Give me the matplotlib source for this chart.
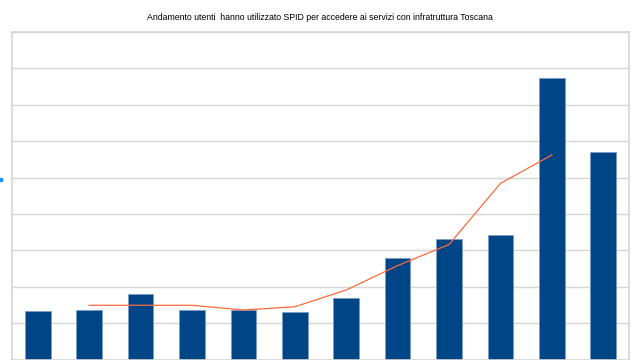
import numpy as np
import matplotlib.pyplot as plt
from matplotlib.patches import Rectangle

titolo = "Andamento utenti  hanno utilizzato SPID per accedere ai servizi con infratruttura Toscana"
periodi = np.arange(12)
utenti = [1.33, 1.36, 1.80, 1.36, 1.37, 1.31, 1.70, 2.79, 3.31, 3.42, 7.73, 5.71]
# media mobile (dal 2o all'11o periodo)
periodi_media = np.arange(1, 11)
media = [1.49, 1.49, 1.49, 1.36, 1.45, 1.91, 2.58, 3.16, 4.84, 5.62]

fig = plt.figure(figsize=(6.4, 3.6), dpi=100)
ax = fig.add_axes([12/640, 1 - 359.5/360, 617/640, 327.5/360])

ax.bar(periodi, utenti, width=0.5, color="#004586", edgecolor="#7a9cc6", linewidth=0.6, zorder=2)
ax.plot(periodi_media, media, color="#ff6a3d", linewidth=0.9, zorder=3)

ax.set_xlim(-0.5, 11.5)
ax.set_ylim(0, 9)
ax.set_yticks(np.arange(0, 10, 1))
ax.set_xticks([])
ax.tick_params(axis="y", length=0, labelleft=False)
ax.grid(axis="y", color="#d6d6d6", linewidth=1.0, zorder=0)
for s in ax.spines.values():
	s.set_color("#d6d6d6")
	s.set_linewidth(1.2)

fig.text(0.5, 1 - 17/360, titolo, ha="center", va="center", fontsize=6.3, family="Liberation Sans")

# piccolo frammento blu sul bordo sinistro
fig.patches.append(Rectangle((0, 1 - 181/360), 2/640, 3/360, transform=fig.transFigure, color="#1e90ff"))

fig.savefig("out.png", dpi=100)
